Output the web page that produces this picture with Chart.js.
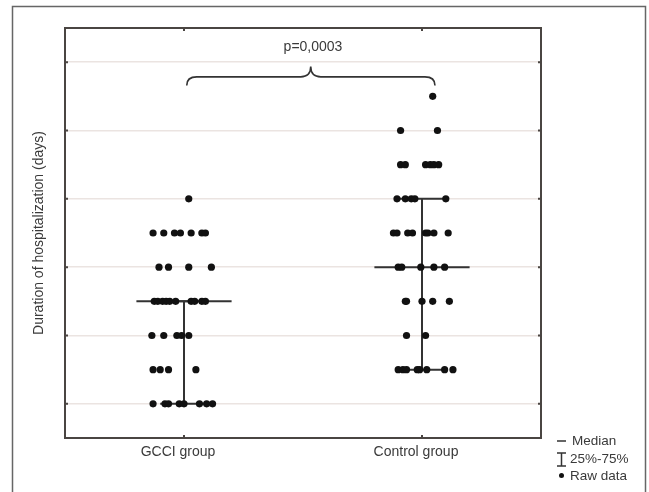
<!DOCTYPE html>
<html>
<head>
<meta charset="utf-8">
<script src="https://cdn.jsdelivr.net/npm/chart.js@4/dist/chart.umd.min.js"></script>
<style>
  html, body { margin: 0; padding: 0; background: #fff; }
  #wrap { width: 649px; height: 492px; }
</style>
</head>
<body>
<div id="wrap"><canvas id="chart" width="649" height="492"></canvas></div>
<script>
// groups and their x positions
var groupLabels = ["GCCI group", "Control group"];
var groupPos = [1, 3];

// raw data (days), x = jittered position around the group
var gcciY = [8, 7,7,7,7,7,7,7, 6,6,6,6, 5,5,5,5,5,5,5,5,5,5, 4,4,4,4,4, 3,3,3,3, 2,2,2,2,2,2,2,2];
var gcciX = [1.04, 0.74,0.83,0.92,0.97,1.06,1.15,1.18, 0.79,0.87,1.04,1.23,
             0.75,0.78,0.82,0.85,0.88,0.93,1.06,1.09,1.15,1.18,
             0.73,0.83,0.94,0.98,1.04, 0.74,0.80,0.87,1.10,
             0.74,0.84,0.87,0.96,1.00,1.13,1.19,1.24];
var ctrlY = [11, 10,10, 9,9,9,9,9,9, 8,8,8,8,8, 7,7,7,7,7,7,7,7, 6,6,6,6,6, 5,5,5,5,5, 4,4, 3,3,3,3,3,3,3,3];
var ctrlX = [3.09, 2.82,3.13, 2.82,2.86,3.03,3.07,3.10,3.14, 2.79,2.86,2.91,2.94,3.20,
             2.76,2.79,2.88,2.92,3.03,3.05,3.10,3.22, 2.80,2.83,2.99,3.10,3.19,
             2.86,2.87,3.00,3.09,3.23, 2.87,3.03,
             2.80,2.84,2.87,2.96,2.98,3.04,3.19,3.26];

// summary stats
var medians = [5, 6];
var q1 = [2, 3];
var q3 = [5, 8];

var yTicks = [2, 4, 6, 8, 10, 12];
var pText = "p=0,0003";

var textColor = "#3a3a3a";
var fontFam = "'Liberation Sans', Arial, sans-serif";

function pts(xs, ys) {
  return xs.map(function (x, i) { return { x: x, y: ys[i] } });
}

var decor = {
  id: "decor",
  beforeDatasetsDraw: function (chart) {
    var ctx = chart.ctx, xs = chart.scales.x, ys = chart.scales.y;
    ctx.save();
    ctx.strokeStyle = "#333";
    ctx.lineWidth = 2;
    for (var i = 0; i < groupPos.length; i++) {
      var c = groupPos[i];
      // median
      ctx.beginPath();
      ctx.moveTo(xs.getPixelForValue(c - 0.4), ys.getPixelForValue(medians[i]));
      ctx.lineTo(xs.getPixelForValue(c + 0.4), ys.getPixelForValue(medians[i]));
      ctx.stroke();
      // IQR
      ctx.beginPath();
      ctx.moveTo(xs.getPixelForValue(c), ys.getPixelForValue(q1[i]));
      ctx.lineTo(xs.getPixelForValue(c), ys.getPixelForValue(q3[i]));
      [q1[i], q3[i]].forEach(function (v) {
        ctx.moveTo(xs.getPixelForValue(c - 0.2), ys.getPixelForValue(v));
        ctx.lineTo(xs.getPixelForValue(c + 0.2), ys.getPixelForValue(v));
      });
      ctx.stroke();
    }
    ctx.restore();
  },
  afterDraw: function (chart) {
    var ctx = chart.ctx, a = chart.chartArea, xs = chart.scales.x, ys = chart.scales.y;
    ctx.save();
    // outer figure frame
    ctx.strokeStyle = "#666";
    ctx.lineWidth = 1.5;
    ctx.strokeRect(12.5, 6.5, 633, 500);
    // plot frame
    ctx.strokeStyle = "#4a4542";
    ctx.lineWidth = 2;
    ctx.strokeRect(a.left, a.top, a.right - a.left, a.bottom - a.top);
    // inward tick marks
    ctx.beginPath();
    groupPos.forEach(function (p) {
      var px = xs.getPixelForValue(p);
      ctx.moveTo(px, a.top); ctx.lineTo(px, a.top + 3);
      ctx.moveTo(px, a.bottom); ctx.lineTo(px, a.bottom - 3);
    });
    yTicks.forEach(function (v) {
      var py = ys.getPixelForValue(v);
      ctx.moveTo(a.left, py); ctx.lineTo(a.left + 3, py);
      ctx.moveTo(a.right, py); ctx.lineTo(a.right - 3, py);
    });
    ctx.stroke();

    // brace
    var x1 = xs.getPixelForValue(1.023), x2 = xs.getPixelForValue(3.109), xc = xs.getPixelForValue(2.065);
    var yE = ys.getPixelForValue(11.32), yH = ys.getPixelForValue(11.57), yP = ys.getPixelForValue(11.87);
    var r = 10;
    ctx.strokeStyle = "#333";
    ctx.lineWidth = 1.6;
    ctx.beginPath();
    ctx.moveTo(x1, yE);
    ctx.quadraticCurveTo(x1, yH, x1 + r, yH);
    ctx.lineTo(xc - r, yH);
    ctx.quadraticCurveTo(xc, yH, xc, yP);
    ctx.quadraticCurveTo(xc, yH, xc + r, yH);
    ctx.lineTo(x2 - r, yH);
    ctx.quadraticCurveTo(x2, yH, x2, yE);
    ctx.stroke();

    ctx.fillStyle = textColor;
    ctx.font = "14px " + fontFam;
    ctx.textAlign = "center";
    ctx.textBaseline = "middle";
    ctx.fillText(pText, xs.getPixelForValue(2.084), ys.getPixelForValue(12.45));

    // legend
    var lx = a.right + 16, ly = a.bottom + 3;
    ctx.font = "13.5px " + fontFam;
    ctx.textAlign = "left";
    ctx.lineWidth = 1.5;
    ctx.strokeStyle = "#333";
    ctx.beginPath();
    ctx.moveTo(lx, ly); ctx.lineTo(lx + 9, ly);
    ctx.moveTo(lx + 4.5, ly + 12); ctx.lineTo(lx + 4.5, ly + 25);
    ctx.moveTo(lx, ly + 12); ctx.lineTo(lx + 9, ly + 12);
    ctx.moveTo(lx, ly + 25); ctx.lineTo(lx + 9, ly + 25);
    ctx.stroke();
    ctx.beginPath();
    ctx.arc(lx + 4.5, ly + 34.5, 2.5, 0, Math.PI * 2);
    ctx.fillStyle = "#111";
    ctx.fill();
    ctx.fillStyle = textColor;
    ctx.fillText("Median", lx + 15, ly);
    ctx.fillText("25%-75%", lx + 13, ly + 18);
    ctx.fillText("Raw data", lx + 13, ly + 35);
    ctx.restore();
  }
};

new Chart("chart", {
  type: "scatter",
  data: {
    datasets: [{
      label: groupLabels[0],
      data: pts(gcciX, gcciY),
      backgroundColor: "#111",
      borderWidth: 0,
      pointRadius: 3.6
    }, {
      label: groupLabels[1],
      data: pts(ctrlX, ctrlY),
      backgroundColor: "#111",
      borderWidth: 0,
      pointRadius: 3.6
    }]
  },
  options: {
    responsive: false,
    animation: false,
    layout: { padding: { left: 12, right: 108, top: 28, bottom: 0 } },
    plugins: { legend: { display: false }, tooltip: { enabled: false } },
    scales: {
      x: {
        type: "linear",
        min: 0, max: 4,
        afterBuildTicks: function (axis) {
          axis.ticks = groupPos.map(function (v) { return { value: v } });
        },
        afterFit: function (axis) { axis.height = 54 },
        grid: { display: false, drawTicks: false },
        border: { display: false },
        ticks: {
          padding: 6,
          labelOffset: -6,
          color: textColor,
          font: { family: fontFam, size: 14 },
          callback: function (v) { return groupLabels[groupPos.indexOf(v)] }
        }
      },
      y: {
        min: 1, max: 13,
        afterBuildTicks: function (axis) {
          axis.ticks = yTicks.map(function (v) { return { value: v } });
        },
        afterFit: function (axis) { axis.width = 53 },
        grid: { color: "#ebe4e1", lineWidth: 1.6, drawTicks: false },
        border: { display: false },
        ticks: { display: false },
        title: {
          display: true,
          text: "Duration of hospitalization (days)",
          color: textColor,
          font: { family: fontFam, size: 14 },
          padding: { top: 19, bottom: 0 }
        }
      }
    }
  },
  plugins: [decor]
});
</script>
</body>
</html>
